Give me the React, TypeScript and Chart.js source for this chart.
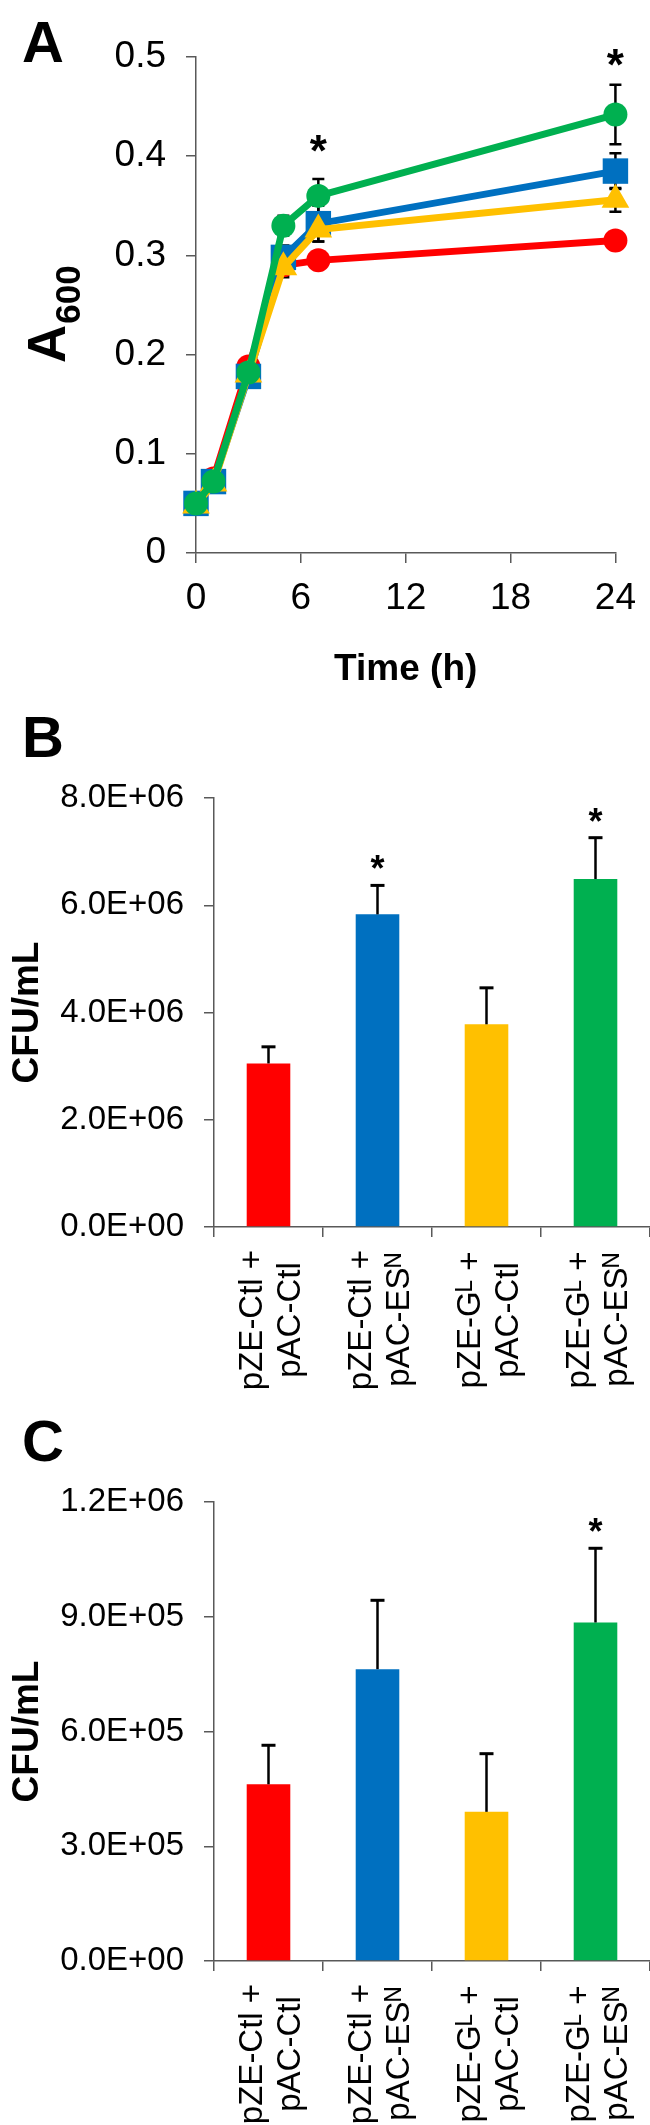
import React, { useEffect, useRef } from 'react';
import { Chart, registerables } from 'chart.js';

Chart.register(...registerables);

const FAMILY = '"Liberation Sans", Arial, Helvetica, sans-serif';
const AXIS_COLOR = '#595959';

// ---------- Panel A data ----------
const timeHours = [0, 1, 3, 5, 7, 24];
const redA600 = [0.05, 0.075, 0.188, 0.29, 0.295, 0.315];
const blueA600 = [0.05, 0.072, 0.178, 0.298, 0.332, 0.385];
const yellowA600 = [0.048, 0.07, 0.18, 0.288, 0.326, 0.356];
const greenA600 = [0.05, 0.072, 0.182, 0.33, 0.36, 0.442];
const redA600Err = [0.003, 0.004, 0.006, 0.006, 0.005, 0.006];
const blueA600Err = [0.003, 0.004, 0.006, 0.012, 0.018, 0.018];
const yellowA600Err = [0.003, 0.004, 0.006, 0.01, 0.012, 0.012];
const greenA600Err = [0.003, 0.004, 0.006, 0.01, 0.017, 0.03];
const starTimes = [7, 24];
const starLevels = [0.415, 0.502];
const timeTickLabels = ['0', '6', '12', '18', '24'];
const a600TickLabels = ['0', '0.1', '0.2', '0.3', '0.4', '0.5'];

// ---------- shared categories ----------
const seriesNames = ['pZE-Ctl + pAC-Ctl', 'pZE-Ctl + pAC-ESᴺ', 'pZE-Gᴸ + pAC-Ctl', 'pZE-Gᴸ + pAC-ESᴺ'];
const categoryLabels = [
  ['pZE-Ctl +', 'pAC-Ctl'],
  ['pZE-Ctl +', 'pAC-ESᴺ'],
  ['pZE-Gᴸ +', 'pAC-Ctl'],
  ['pZE-Gᴸ +', 'pAC-ESᴺ'],
];
const seriesColors = ['#FF0000', '#0070C0', '#FFC000', '#00B050'];
const pointStyles = ['circle', 'rect', 'triangle', 'circle'];
const pointRadii = [12, 18, 16, 12];

// ---------- Panel B data ----------
const cfuB = [3.05e6, 5.83e6, 3.78e6, 6.49e6];
const cfuBErr = [0.31e6, 0.54e6, 0.68e6, 0.77e6];
const cfuBStars = [null, 6.83e6, null, 7.7e6];
const cfuBTickLabels = ['0.0E+00', '2.0E+06', '4.0E+06', '6.0E+06', '8.0E+06'];

// ---------- Panel C data ----------
const cfuC = [4.62e5, 7.63e5, 3.9e5, 8.85e5];
const cfuCErr = [1.02e5, 1.8e5, 1.52e5, 1.94e5];
const cfuCStars = [null, null, null, 1.142e6];
const cfuCTickLabels = ['0.0E+00', '3.0E+05', '6.0E+05', '9.0E+05', '1.2E+06'];

function drawStar(ctx: CanvasRenderingContext2D, x: number, yCenter: number, size: number) {
  ctx.save();
  ctx.fillStyle = '#000';
  ctx.font = `bold ${size}px ${FAMILY}`;
  ctx.textAlign = 'center';
  ctx.textBaseline = 'alphabetic';
  ctx.fillText('*', x, yCenter + 0.56 * size);
  ctx.restore();
}

function drawPanelLetter(ctx: CanvasRenderingContext2D, letter: string, baseline: number) {
  ctx.save();
  ctx.fillStyle = '#000';
  ctx.font = `bold 58px ${FAMILY}`;
  ctx.textAlign = 'left';
  ctx.textBaseline = 'alphabetic';
  ctx.fillText(letter, 22, baseline);
  ctx.restore();
}

const gridOpts = {
  drawOnChartArea: false,
  drawTicks: true,
  tickLength: 10,
  color: AXIS_COLOR,
  lineWidth: 1.5,
};
const borderOpts = { display: true, color: AXIS_COLOR, width: 1.5 };

function makeLineChart(canvas: HTMLCanvasElement) {
  const values = [redA600, blueA600, yellowA600, greenA600];
  const errs = [redA600Err, blueA600Err, yellowA600Err, greenA600Err];
  const plugin = {
    id: 'panelAExtras',
    beforeDatasetsDraw(chart: any) {
      const { ctx, scales } = chart;
      ctx.save();
      ctx.strokeStyle = '#000';
      ctx.lineWidth = 2.5;
      values.forEach((series, i) => {
        series.forEach((v, j) => {
          const x = scales.x.getPixelForValue(timeHours[j]);
          const yT = scales.y.getPixelForValue(v + errs[i][j]);
          const yB = scales.y.getPixelForValue(v - errs[i][j]);
          ctx.beginPath();
          ctx.moveTo(x, yT);
          ctx.lineTo(x, yB);
          ctx.moveTo(x - 6, yT);
          ctx.lineTo(x + 6, yT);
          ctx.moveTo(x - 6, yB);
          ctx.lineTo(x + 6, yB);
          ctx.stroke();
        });
      });
      ctx.restore();
    },
    afterDraw(chart: any) {
      const { ctx, scales } = chart;
      drawPanelLetter(ctx, 'A', 62);
      // y-axis title A with subscript 600
      ctx.save();
      ctx.fillStyle = '#000';
      ctx.translate(65, 363);
      ctx.rotate(-Math.PI / 2);
      ctx.textAlign = 'left';
      ctx.textBaseline = 'alphabetic';
      ctx.font = `bold 53px ${FAMILY}`;
      ctx.fillText('A', 0, 0);
      const w = ctx.measureText('A').width;
      ctx.font = `bold 35px ${FAMILY}`;
      ctx.fillText('600', w + 1, 15);
      ctx.restore();
      starTimes.forEach((t, k) => {
        drawStar(ctx, scales.x.getPixelForValue(t), scales.y.getPixelForValue(starLevels[k]), 44);
      });
    },
  };
  return new Chart(canvas, {
    type: 'line',
    data: {
      datasets: values.map((series, i) => ({
        label: seriesNames[i],
        data: timeHours.map((t, j) => ({ x: t, y: series[j] })),
        borderColor: seriesColors[i],
        backgroundColor: seriesColors[i],
        borderWidth: 7,
        pointStyle: pointStyles[i] as any,
        pointRadius: pointRadii[i],
        pointBorderWidth: 0,
        pointBorderColor: seriesColors[i],
        pointBackgroundColor: seriesColors[i],
        order: 4 - i,
        clip: false as any,
        tension: 0,
      })),
    },
    options: {
      animation: false,
      responsive: false,
      events: [],
      layout: { padding: { left: 0, right: 29, top: 57, bottom: 0 } },
      plugins: { legend: { display: false }, tooltip: { enabled: false } },
      scales: {
        x: {
          type: 'linear',
          min: 0,
          max: 24,
          afterFit: (s: any) => {
            s.height = 147;
          },
          ticks: {
            stepSize: 6,
            maxRotation: 0,
            callback: (_v: any, i: number) => timeTickLabels[i],
            font: { family: FAMILY, size: 37 },
            color: '#000',
            padding: 14,
          },
          grid: gridOpts,
          border: borderOpts,
          title: {
            display: true,
            text: 'Time (h)',
            color: '#000',
            font: { family: FAMILY, size: 37, weight: 'bold' },
            padding: { top: 0, bottom: 8 },
          },
        },
        y: {
          min: 0,
          max: 0.5,
          afterFit: (s: any) => {
            s.width = 196;
          },
          ticks: {
            stepSize: 0.1,
            callback: (_v: any, i: number) => a600TickLabels[i],
            font: { family: FAMILY, size: 37 },
            color: '#000',
            padding: 20,
          },
          grid: gridOpts,
          border: borderOpts,
        },
      },
    },
    plugins: [plugin],
  } as any);
}

function makeBarChart(
  canvas: HTMLCanvasElement,
  letter: string,
  letterBaseline: number,
  values: number[],
  errs: number[],
  stars: (number | null)[],
  tickLabels: string[],
  yMax: number,
  yStep: number,
  topPad: number,
  xAxisHeight: number
) {
  const plugin = {
    id: 'barExtras' + letter,
    afterDatasetsDraw(chart: any) {
      const { ctx, scales } = chart;
      const meta = chart.getDatasetMeta(0);
      ctx.save();
      ctx.strokeStyle = '#000';
      meta.data.forEach((el: any, i: number) => {
        const x = el.x;
        const y0 = scales.y.getPixelForValue(values[i]);
        const yT = scales.y.getPixelForValue(values[i] + errs[i]);
        ctx.lineWidth = 2.5;
        ctx.beginPath();
        ctx.moveTo(x, y0);
        ctx.lineTo(x, yT);
        ctx.stroke();
        ctx.lineWidth = 3;
        ctx.beginPath();
        ctx.moveTo(x - 7, yT);
        ctx.lineTo(x + 7, yT);
        ctx.stroke();
      });
      ctx.restore();
      meta.data.forEach((el: any, i: number) => {
        const s = stars[i];
        if (s !== null) drawStar(ctx, el.x, scales.y.getPixelForValue(s), 36);
      });
    },
    afterDraw(chart: any) {
      const { ctx, scales } = chart;
      drawPanelLetter(ctx, letter, letterBaseline);
      // category labels: two centred lines, rotated to read upwards
      const xs = scales.x;
      ctx.save();
      ctx.fillStyle = '#000';
      ctx.font = `33px ${FAMILY}`;
      ctx.textAlign = 'center';
      ctx.textBaseline = 'alphabetic';
      categoryLabels.forEach((lines, i) => {
        const px = xs.getPixelForTick(i);
        const cy = xs.top + 93;
        ctx.save();
        ctx.translate(px, cy);
        ctx.rotate(-Math.PI / 2);
        ctx.fillText(lines[0], 0, -6.5);
        ctx.fillText(lines[1], 0, 31.5);
        ctx.restore();
      });
      ctx.restore();
    },
  };
  return new Chart(canvas, {
    type: 'bar',
    data: {
      labels: categoryLabels,
      datasets: [
        {
          label: 'CFU/mL',
          data: values,
          backgroundColor: seriesColors,
          borderWidth: 0,
          barPercentage: 0.4,
          categoryPercentage: 1,
        },
      ],
    },
    options: {
      animation: false,
      responsive: false,
      events: [],
      layout: { padding: { left: 0, right: 0, top: topPad, bottom: 0 } },
      plugins: { legend: { display: false }, tooltip: { enabled: false } },
      scales: {
        x: {
          afterFit: (s: any) => {
            s.height = xAxisHeight;
          },
          ticks: {
            display: false,
            autoSkip: false,
          },
          grid: { ...gridOpts, offset: true },
          border: borderOpts,
        },
        y: {
          min: 0,
          max: yMax,
          afterFit: (s: any) => {
            s.width = 214;
          },
          ticks: {
            stepSize: yStep,
            callback: (_v: any, i: number) => tickLabels[i],
            font: { family: FAMILY, size: 33 },
            color: '#000',
            padding: 20,
          },
          grid: gridOpts,
          border: borderOpts,
          title: {
            display: true,
            text: 'CFU/mL',
            color: '#000',
            font: { family: FAMILY, size: 37, weight: 'bold' },
            padding: { top: 6, bottom: 0 },
          },
        },
      },
    },
    plugins: [plugin],
  } as any);
}

export default function App() {
  const refA = useRef<HTMLCanvasElement>(null);
  const refB = useRef<HTMLCanvasElement>(null);
  const refC = useRef<HTMLCanvasElement>(null);

  useEffect(() => {
    document.body.style.margin = '0';
    const charts: Chart[] = [];
    if (refA.current) charts.push(makeLineChart(refA.current));
    if (refB.current)
      charts.push(
        makeBarChart(refB.current, 'B', 57, cfuB, cfuBErr, cfuBStars, cfuBTickLabels, 8e6, 2e6, 98, 183)
      );
    if (refC.current)
      charts.push(
        makeBarChart(refC.current, 'C', 51, cfuC, cfuCErr, cfuCStars, cfuCTickLabels, 1.2e6, 3e5, 92, 164)
      );
    return () => {
      charts.forEach((c) => c.destroy());
    };
  }, []);

  return (
    <div style={{ position: 'relative', width: 650, height: 2125, background: '#fff', overflow: 'hidden' }}>
      <canvas ref={refA} width={650} height={700} style={{ position: 'absolute', left: 0, top: 0 }} />
      <canvas ref={refB} width={650} height={710} style={{ position: 'absolute', left: 0, top: 700 }} />
      <canvas ref={refC} width={650} height={715} style={{ position: 'absolute', left: 0, top: 1410 }} />
    </div>
  );
}
